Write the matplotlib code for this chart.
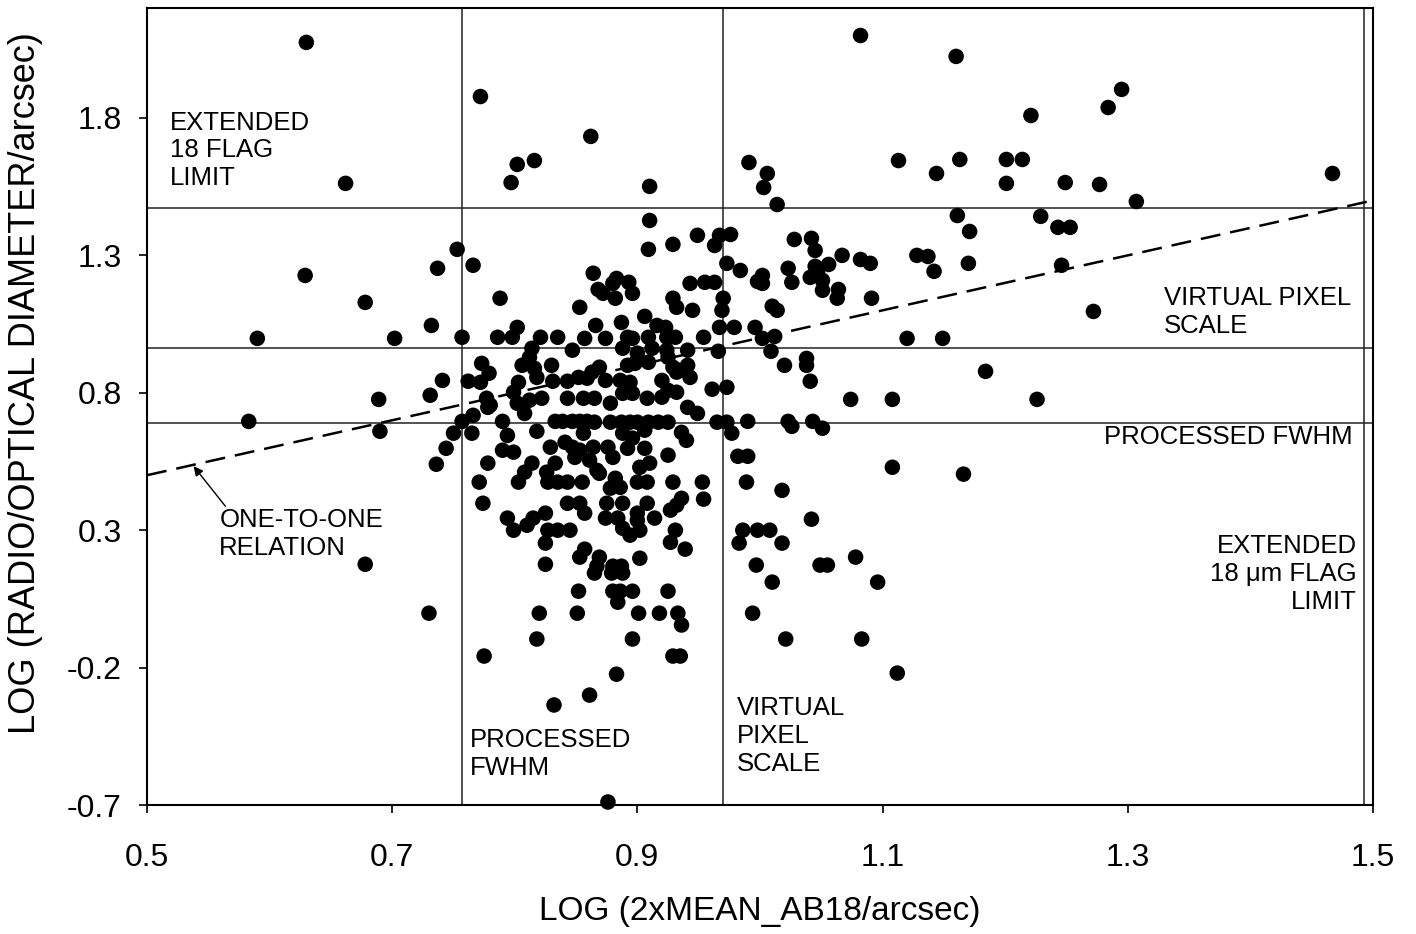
import matplotlib
matplotlib.use('Agg')
import matplotlib.pyplot as plt

plt.rcParams['font.family'] = ['Liberation Sans', 'DejaVu Sans']

# log of optical size (x) against log of radio/optical diameter (y)
log_ab18 = [
    0.630, 0.662, 0.629, 0.678, 0.590, 0.702, 0.732, 0.737, 0.741, 0.731,
    0.689, 0.583, 0.690, 0.744, 0.736, 0.678, 0.730, 0.753, 0.766, 0.788,
    0.853, 0.864, 0.757, 0.786, 0.798, 0.802, 0.821, 0.835, 0.857, 0.814,
    0.812, 0.806, 0.816, 0.830, 0.818, 0.831, 0.847, 0.773, 0.779, 0.762,
    0.772, 0.803, 0.799, 0.843, 0.852, 0.859, 0.777, 0.780, 0.802, 0.812,
    0.822, 0.843, 0.856, 0.949, 0.967, 0.963, 0.909, 0.929, 0.973, 0.883,
    0.880, 0.893, 0.896, 0.868, 0.872, 0.882, 0.943, 0.955, 0.963, 0.970,
    0.929, 0.932, 0.945, 0.969, 0.906, 0.887, 0.866, 0.916, 0.923, 0.967,
    0.874, 0.892, 0.896, 0.909, 0.924, 0.931, 0.954, 0.888, 0.900, 0.912,
    0.924, 0.941, 0.966, 0.892, 0.898, 0.909, 0.925, 0.929, 0.935, 0.941,
    0.943, 0.863, 0.869, 0.874, 0.886, 0.894, 0.920, 0.932, 0.961, 0.973,
    0.865, 0.878, 0.888, 0.896, 0.908, 0.920, 0.925, 0.932, 0.941, 0.757,
    0.766, 0.778, 0.750, 0.765, 0.790, 0.808, 0.794, 0.818, 0.790, 0.799,
    0.829, 0.833, 0.839, 0.847, 0.853, 0.859, 0.856, 0.841, 0.847, 0.849,
    0.853, 0.778, 0.833, 0.814, 0.808, 0.803, 0.826, 0.827, 0.835, 0.843,
    0.855, 0.771, 0.774, 0.843, 0.853, 0.857, 0.794, 0.799, 0.810, 0.815,
    0.825, 0.827, 0.835, 0.845, 0.825, 0.857, 0.853, 0.825, 0.949, 0.865,
    0.878, 0.887, 0.894, 0.900, 0.909, 0.917, 0.925, 0.965, 0.973, 0.888,
    0.896, 0.906, 0.936, 0.940, 0.864, 0.876, 0.880, 0.892, 0.906, 0.925,
    0.861, 0.867, 0.869, 0.902, 0.910, 0.882, 0.886, 0.878, 0.900, 0.908,
    0.929, 0.953, 0.954, 0.936, 0.932, 0.927, 0.875, 0.888, 0.908, 0.874,
    0.884, 0.900, 0.900, 0.914, 0.888, 0.894, 0.902, 0.931, 0.927, 0.939,
    0.869, 0.867, 0.880, 0.887, 0.865, 0.879, 0.888, 0.902, 0.852, 0.880,
    0.886, 0.896, 0.884, 0.925, 0.820, 0.851, 0.901, 0.918, 0.933, 0.936,
    0.818, 0.896, 0.775, 0.929, 0.935, 0.883, 0.861, 0.832, 0.876, 0.772,
    0.862, 0.802, 0.816, 0.797, 0.910, 0.910, 0.976, 1.082, 1.113, 0.991,
    1.006, 1.003, 1.014, 1.028, 1.042, 1.045, 1.067, 1.082, 1.090, 1.128,
    0.984, 1.023, 1.045, 1.056, 1.002, 0.998, 1.002, 1.026, 1.041, 1.047,
    1.051, 1.051, 1.064, 1.063, 1.091, 1.010, 1.014, 0.979, 0.996, 1.002,
    1.012, 1.009, 1.020, 1.038, 1.038, 1.041, 1.120, 1.074, 1.108, 0.990,
    1.023, 1.026, 1.043, 0.977, 1.051, 0.982, 0.990, 1.108, 0.989, 1.018,
    1.042, 0.986, 0.998, 1.008, 0.983, 1.018, 0.997, 1.049, 1.055, 1.078,
    1.010, 1.096, 0.994, 1.021, 1.083, 1.112, 1.160, 1.295, 1.284, 1.221,
    1.163, 1.201, 1.214, 1.144, 1.201, 1.249, 1.277, 1.307, 1.467, 1.161,
    1.171, 1.229, 1.243, 1.253, 1.137, 1.142, 1.170, 1.246, 1.272, 1.149,
    1.184, 1.226, 1.166,
]
log_ratio = [
    2.075, 1.562, 1.227, 1.129, 0.998, 0.998, 1.045, 1.253, 0.845, 0.791,
    0.776, 0.696, 0.660, 0.598, 0.540, 0.176, -0.002, 1.322, 1.264, 1.144,
    1.111, 1.235, 1.002, 1.002, 1.002, 1.038, 1.002, 1.002, 0.998, 0.962,
    0.929, 0.900, 0.889, 0.900, 0.856, 0.842, 0.955, 0.907, 0.871, 0.842,
    0.838, 0.838, 0.802, 0.842, 0.856, 0.853, 0.780, 0.755, 0.762, 0.773,
    0.780, 0.780, 0.780, 1.373, 1.373, 1.336, 1.322, 1.340, 1.271, 1.216,
    1.198, 1.202, 1.162, 1.176, 1.162, 1.144, 1.198, 1.202, 1.202, 1.144,
    1.144, 1.111, 1.100, 1.100, 1.078, 1.056, 1.045, 1.045, 1.038, 1.038,
    0.998, 1.002, 0.998, 1.002, 1.002, 1.002, 1.002, 0.962, 0.944, 0.962,
    0.955, 0.955, 0.951, 0.900, 0.907, 0.911, 0.929, 0.893, 0.882, 0.900,
    0.856, 0.875, 0.893, 0.845, 0.845, 0.838, 0.845, 0.875, 0.813, 0.820,
    0.780, 0.762, 0.798, 0.798, 0.780, 0.784, 0.809, 0.802, 0.747, 0.696,
    0.718, 0.747, 0.653, 0.653, 0.696, 0.725, 0.645, 0.660, 0.591, 0.584,
    0.602, 0.696, 0.696, 0.696, 0.696, 0.696, 0.653, 0.620, 0.602, 0.565,
    0.591, 0.544, 0.544, 0.544, 0.511, 0.475, 0.511, 0.475, 0.475, 0.475,
    0.475, 0.475, 0.398, 0.398, 0.398, 0.362, 0.344, 0.300, 0.318, 0.344,
    0.362, 0.300, 0.300, 0.300, 0.253, 0.231, 0.202, 0.176, 0.725, 0.693,
    0.693, 0.693, 0.693, 0.693, 0.693, 0.693, 0.693, 0.693, 0.693, 0.653,
    0.635, 0.664, 0.656, 0.627, 0.602, 0.602, 0.565, 0.598, 0.598, 0.573,
    0.555, 0.518, 0.507, 0.529, 0.544, 0.489, 0.456, 0.453, 0.475, 0.475,
    0.475, 0.475, 0.413, 0.416, 0.391, 0.373, 0.398, 0.398, 0.398, 0.344,
    0.344, 0.362, 0.336, 0.344, 0.307, 0.282, 0.300, 0.300, 0.256, 0.231,
    0.202, 0.169, 0.169, 0.169, 0.144, 0.144, 0.144, 0.198, 0.078, 0.078,
    0.078, 0.078, 0.038, 0.078, -0.002, -0.002, -0.002, -0.002, -0.002, -0.045,
    -0.096, -0.096, -0.158, -0.158, -0.158, -0.224, -0.300, -0.336, -0.689, 1.878,
    1.733, 1.631, 1.645, 1.565, 1.551, 1.427, 1.376, 2.100, 1.645, 1.638,
    1.598, 1.547, 1.485, 1.358, 1.362, 1.318, 1.300, 1.285, 1.271, 1.300,
    1.245, 1.253, 1.260, 1.267, 1.227, 1.205, 1.198, 1.202, 1.220, 1.235,
    1.209, 1.173, 1.176, 1.144, 1.144, 1.115, 1.100, 1.038, 1.038, 0.998,
    1.005, 0.951, 0.900, 0.925, 0.900, 0.842, 0.998, 0.776, 0.776, 0.696,
    0.696, 0.678, 0.696, 0.653, 0.671, 0.569, 0.569, 0.529, 0.475, 0.445,
    0.340, 0.300, 0.300, 0.300, 0.253, 0.253, 0.173, 0.173, 0.173, 0.202,
    0.111, 0.111, -0.002, -0.096, -0.096, -0.220, 2.024, 1.904, 1.838, 1.809,
    1.649, 1.649, 1.649, 1.598, 1.562, 1.565, 1.558, 1.496, 1.598, 1.445,
    1.387, 1.442, 1.402, 1.402, 1.296, 1.242, 1.271, 1.264, 1.096, 0.998,
    0.878, 0.776, 0.504,
]

# reference limits
fwhm_limit = 0.690        # processed FWHM (y) / 0.757 (x)
fwhm_limit_x = 0.757
pixel_scale = 0.964       # virtual pixel scale (y)
pixel_scale_x = 0.970
flag_limit = 1.473        # extended 18 um flag limit (y)
flag_limit_x = 1.493

x_ticks = [0.5, 0.7, 0.9, 1.1, 1.3, 1.5]
y_ticks = [-0.7, -0.2, 0.3, 0.8, 1.3, 1.8]

fig = plt.figure(figsize=(14.16, 9.34), dpi=100)
ax = fig.add_axes([0.1038, 0.1381, 0.8658, 0.8533])

for yv in (fwhm_limit, pixel_scale, flag_limit):
    ax.axhline(yv, color='#222222', lw=1.1, zorder=1)
for xv in (fwhm_limit_x, pixel_scale_x, flag_limit_x):
    ax.axvline(xv, color='#222222', lw=1.1, zorder=1)

# one-to-one line
ax.plot([0.5, 1.5], [0.5, 1.5], color='black', lw=1.8,
        linestyle=(0, (8, 4)), zorder=2)

ax.scatter(log_ab18, log_ratio, s=125, color='black', edgecolors='none',
           zorder=3, clip_on=False)

fs = 18.5
ax.text(0.519, 1.827, 'EXTENDED\n18 FLAG\nLIMIT', fontsize=fs, va='top',
        ha='left', linespacing=1.2)
ax.text(0.559, 0.380, 'ONE-TO-ONE\nRELATION', fontsize=fs, va='top',
        ha='left', linespacing=1.2)
ax.annotate('', xy=(0.538, 0.533), xytext=(0.564, 0.387),
            arrowprops=dict(arrowstyle='-|>', color='black', lw=1.0,
                            mutation_scale=14, shrinkA=0, shrinkB=0))
ax.text(0.763, -0.420, 'PROCESSED\nFWHM', fontsize=fs, va='top', ha='left',
        linespacing=1.2)
ax.text(0.981, -0.304, 'VIRTUAL\nPIXEL\nSCALE', fontsize=fs, va='top',
        ha='left', linespacing=1.2)
ax.text(1.3295, 1.187, 'VIRTUAL PIXEL\nSCALE', fontsize=fs, va='top',
        ha='left', linespacing=1.2)
ax.text(1.4837, 0.682, 'PROCESSED FWHM', fontsize=fs, va='top', ha='right')
ax.text(1.487, 0.285, 'EXTENDED\n18 \u03bcm FLAG\nLIMIT', fontsize=fs,
        va='top', ha='right', multialignment='right', linespacing=1.2)

ax.set_xlim(0.5, 1.5)
ax.set_ylim(-0.7, 2.2)
ax.set_xticks(x_ticks)
ax.set_yticks(y_ticks)
ax.set_xticklabels(['%.1f' % v for v in x_ticks])
ax.set_yticklabels(['%.1f' % v for v in y_ticks])
ax.tick_params(direction='out', length=6, width=1.2, labelsize=23)
ax.tick_params(axis='x', pad=21)
ax.tick_params(axis='y', pad=12)
for sp in ax.spines.values():
    sp.set_linewidth(1.5)

ax.set_xlabel('LOG (2xMEAN_AB18/arcsec)', fontsize=24, labelpad=17)
ax.set_ylabel('LOG (RADIO/OPTICAL DIAMETER/arcsec)', fontsize=26)
ax.yaxis.set_label_coords(-0.085, 0.53)

fig.savefig('out.png', dpi=100)
